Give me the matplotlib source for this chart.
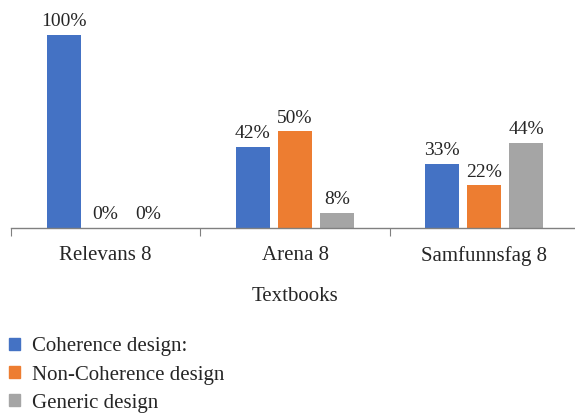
import numpy as np
import matplotlib.pyplot as plt
from matplotlib.patches import Patch

# ----------------------------
# Dados
# ----------------------------
textbooks = ["Relevans 8", "Arena 8", "Samfunnsfag 8"]
series_names = ["Coherence design:", "Non-Coherence design", "Generic design"]
coherence = [100, 42, 33]
non_coherence = [0, 50, 22]
generic = [0, 8, 44]

colors = ["#4472C4", "#ED7D31", "#A5A5A5"]
text_color = "#262626"

plt.rcParams["font.family"] = ["Liberation Serif", "DejaVu Serif"]

# ----------------------------
# Figura
# ----------------------------
fig = plt.figure(figsize=(5.75, 4.15), dpi=100)
W, H = 575, 415
ax = fig.add_axes([11 / W, 1 - 228 / H, (579 - 11) / W, 228 / H])

x = np.arange(len(textbooks))
step = 0.222
width = 0.18
all_series = [coherence, non_coherence, generic]

for i, (vals, c) in enumerate(zip(all_series, colors)):
    pos = x + (i - 1) * step
    ax.bar(pos, vals, width=width, color=c)
    for xp, v in zip(pos, vals):
        ax.text(xp, v + 2.5, f"{v}%", ha="center", va="bottom",
                fontsize=14, color=text_color)

ax.set_xlim(-0.5, len(textbooks) - 0.5)
ax.set_ylim(0, 118)

for s in ["top", "right", "left"]:
    ax.spines[s].set_visible(False)
ax.spines["bottom"].set_color("#808080")
ax.spines["bottom"].set_linewidth(1.0)
ax.set_yticks([])

# ticks nas fronteiras dos grupos, rótulos no centro
ax.set_xticks(np.arange(len(textbooks) + 1) - 0.5)
ax.set_xticklabels([])
ax.tick_params(axis="x", which="major", length=6, color="#808080", direction="out")
ax.set_xticks(x, minor=True)
ax.set_xticklabels(textbooks, minor=True, fontsize=15, color=text_color)
ax.tick_params(axis="x", which="minor", length=0, pad=13)

ax.set_xlabel("Textbooks", fontsize=15, color=text_color, labelpad=15)

handles = [Patch(color=c) for c in colors]
fig.legend(handles, series_names, loc="upper left",
           bbox_to_anchor=(0.0, 1 - 328 / H), frameon=False,
           fontsize=15, handlelength=0.5, handleheight=0.5,
           handletextpad=0.6, labelspacing=0.44, borderaxespad=0.0,
           borderpad=0.45, labelcolor=text_color)

fig.savefig("out.png", dpi=100)
